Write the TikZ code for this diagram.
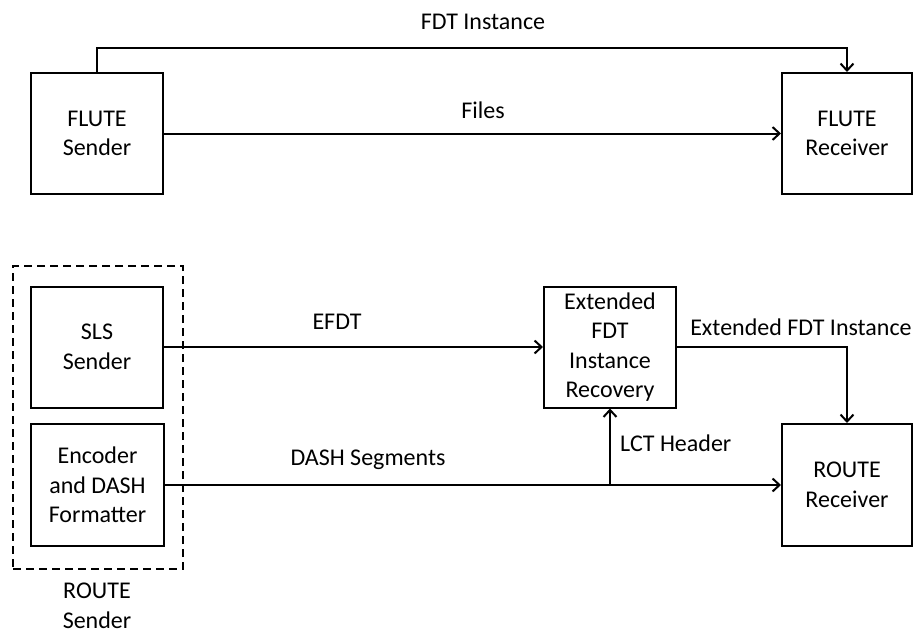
\documentclass[tikz,border=0pt]{standalone}
\usepackage{fontspec}
\setmainfont{Carlito}
\usetikzlibrary{arrows.meta}
\begin{document}
\begin{tikzpicture}[x=1pt,y=-1pt,
  every node/.style={font=\fontsize{24}{29.5}\selectfont, inner sep=0pt},
  blk/.style={draw, line width=2pt, align=center},
  lbl/.style={align=center},
  arr/.style={line width=2pt, -{Straight Barb[length=7pt,width=13pt,line width=2pt]}},
  dashbox/.style={draw, line width=2pt, dash pattern=on 8pt off 5pt}]
\useasboundingbox[fill=white] (0,0) rectangle (914,634);
% top part
\node[blk, minimum width=132, minimum height=121] (fs) at (97,133.5) {FLUTE\\Sender};
\node[blk, minimum width=130, minimum height=121] (fr) at (847,133.5) {FLUTE\\Receiver};
\node[lbl] (lfdt) at (483,22) {FDT Instance};
\node[lbl] (lfiles) at (483,110) {Files};
\draw[arr] (fs.north) -- ++(0,-24) -| (fr.north);
\draw[arr] (fs.east) -- (fr.west);
% bottom part
\node[dashbox, minimum width=170, minimum height=303] (rs) at (98,417.5) {};
\node[blk, minimum width=132, minimum height=121] (sls) at (97,347) {SLS\\Sender};
\node[blk, minimum width=133, minimum height=122] (enc) at (97.5,485) {Encoder\\and DASH\\Formatter};
\node[lbl] (lrs) at (97,606) {ROUTE\\Sender};
\node[blk, minimum width=132, minimum height=121] (ext) at (610,347) {Extended\\FDT\\Instance\\Recovery};
\node[blk, minimum width=130, minimum height=122] (rr) at (847,485) {ROUTE\\Receiver};
\node[lbl] (lefdt) at (337,322) {EFDT};
\node[lbl] (ldash) at (368,460) {DASH Segments};
\node[lbl] (lext) at (801,327) {Extended FDT Instance};
\node[lbl, anchor=west] (llct) at (620,443) {LCT Header};
\coordinate (br) at (ext.south |- enc.east);
\draw[arr] (sls.east) -- (ext.west);
\draw[arr] (ext.east) -| (rr.north);
\draw[arr] (enc.east) -- (rr.west);
\draw[arr] (br) -- (ext.south);
\end{tikzpicture}
\end{document}
